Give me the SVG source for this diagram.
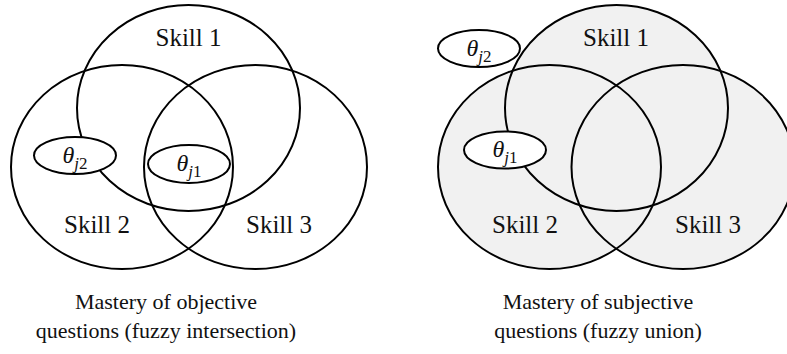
<svg xmlns="http://www.w3.org/2000/svg" width="787" height="354" viewBox="0 0 787 354">
  <style>
    .c { fill: none; stroke: #000; stroke-width: 2; }
    .f { fill: #f1f1f1; stroke: none; }
    .e { fill: #fff; stroke: #000; stroke-width: 2; }
    text { fill: #111; text-anchor: middle; font-family: "Liberation Serif", "Times New Roman", serif; }
    .lbl { font-size: 25px; }
    .cap { font-size: 22px; }
    .th { font-size: 24px; }
    .it { font-style: italic; }
    .sub { font-size: 17px; }
  </style>
  <rect width="787" height="354" fill="#fff"/>

  <!-- Left diagram: fuzzy intersection -->
  <g id="left-skill1"><ellipse class="c" cx="188.5" cy="108" rx="111.5" ry="103"/></g>
  <g id="left-skill2"><ellipse class="c" cx="122" cy="167" rx="111" ry="102"/></g>
  <g id="left-skill3"><ellipse class="c" cx="255.5" cy="167" rx="111.5" ry="102"/></g>
  <g id="left-labels">
    <text class="lbl" x="188.5" y="46">Skill 1</text>
    <text class="lbl" x="97" y="233">Skill 2</text>
    <text class="lbl" x="279" y="233">Skill 3</text>
  </g>
  <g id="left-theta-j2">
    <ellipse class="e" cx="75" cy="155.5" rx="41" ry="18.5"/>
    <text class="th" x="75" y="163"><tspan class="it">θ</tspan><tspan class="it sub" dy="6">j</tspan><tspan class="sub">2</tspan></text>
  </g>
  <g id="left-theta-j1">
    <ellipse class="e" cx="189" cy="164" rx="41" ry="19"/>
    <text class="th" x="189" y="171"><tspan class="it">θ</tspan><tspan class="it sub" dy="6">j</tspan><tspan class="sub">1</tspan></text>
  </g>
  <g id="left-caption">
    <text class="cap" x="166" y="309">Mastery of objective</text>
    <text class="cap" x="166" y="338">questions (fuzzy intersection)</text>
  </g>

  <!-- Right diagram: fuzzy union -->
  <g id="right-fill">
    <ellipse class="f" cx="616.5" cy="108" rx="111.5" ry="103"/>
    <ellipse class="f" cx="549.5" cy="167" rx="111.5" ry="102"/>
    <ellipse class="f" cx="683" cy="167" rx="111.5" ry="102"/>
  </g>
  <g id="right-skill1"><ellipse class="c" cx="616.5" cy="108" rx="111.5" ry="103"/></g>
  <g id="right-skill2"><ellipse class="c" cx="549.5" cy="167" rx="111.5" ry="102"/></g>
  <g id="right-skill3"><ellipse class="c" cx="683" cy="167" rx="111.5" ry="102"/></g>
  <g id="right-labels">
    <text class="lbl" x="616" y="46">Skill 1</text>
    <text class="lbl" x="525" y="233">Skill 2</text>
    <text class="lbl" x="708" y="233">Skill 3</text>
  </g>
  <g id="right-theta-j2">
    <ellipse class="e" cx="479" cy="48.5" rx="41" ry="18.5"/>
    <text class="th" x="479" y="56"><tspan class="it">θ</tspan><tspan class="it sub" dy="6">j</tspan><tspan class="sub">2</tspan></text>
  </g>
  <g id="right-theta-j1">
    <ellipse class="e" cx="505" cy="150" rx="41" ry="18.5"/>
    <text class="th" x="505" y="157"><tspan class="it">θ</tspan><tspan class="it sub" dy="6">j</tspan><tspan class="sub">1</tspan></text>
  </g>
  <g id="right-caption">
    <text class="cap" x="598" y="309">Mastery of subjective</text>
    <text class="cap" x="598" y="338">questions (fuzzy union)</text>
  </g>
  <g id="connectors"/>
</svg>
